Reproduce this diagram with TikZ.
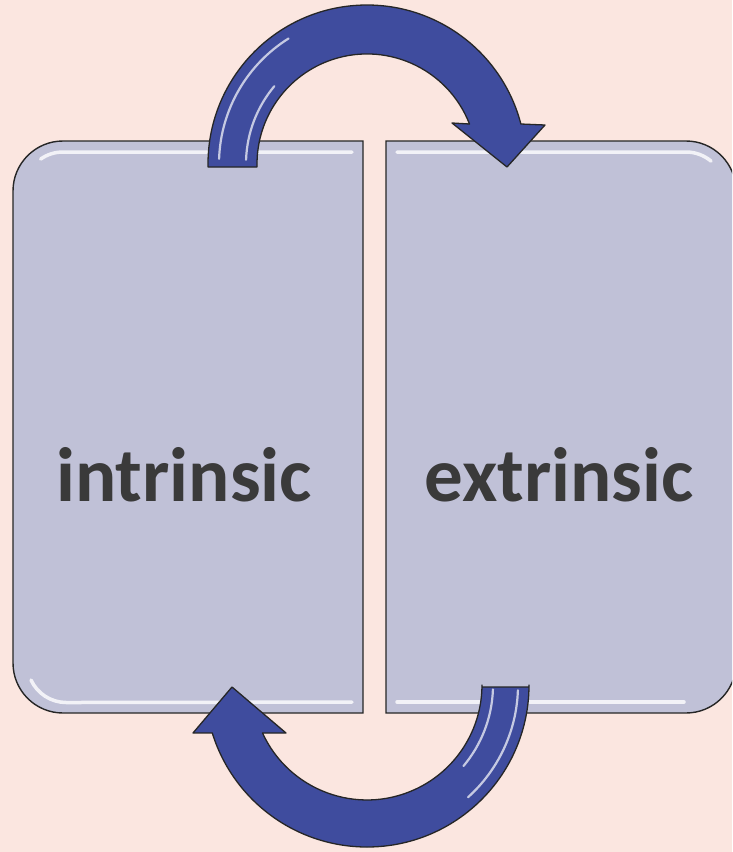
\documentclass[tikz,border=0pt]{standalone}
\usepackage{fontspec}
\setmainfont{Carlito}
\definecolor{bg}{RGB}{251,230,224}
\definecolor{panelfill}{RGB}{192,193,215}
\definecolor{arrowfill}{RGB}{63,76,158}
\definecolor{txt}{RGB}{58,58,58}
\tikzset{
  panel/.style={fill=panelfill, draw=black!85, line width=1.4pt},
  phl/.style={draw=white, line width=3.5pt, opacity=0.8, line cap=round},
  arrowshape/.style={fill=arrowfill, draw=black!85, line width=1.3pt, line join=round},
  ahl/.style={draw=white, line width=2.2pt, opacity=0.7, line cap=round},
  label/.style={font=\fontsize{77}{92}\selectfont\bfseries, text=txt, anchor=base, inner sep=0pt}
}
\begin{document}
\begin{tikzpicture}[x=1pt,y=1pt]
\useasboundingbox (0,0) rectangle (732,-852);
\fill[bg] (0,0) rectangle (732,-852);
\begin{scope}
\clip (0,0) rectangle (732,-852);
% panels
\draw[panel] (363,-141) -- (63,-141) arc[start angle=90, end angle=180, radius=50]
  -- (13,-663) arc[start angle=180, end angle=270, radius=50] -- (363,-713) -- cycle;
\draw[panel] (386,-141) -- (686,-141) arc[start angle=90, end angle=0, radius=50]
  -- (736,-663) arc[start angle=0, end angle=-90, radius=50] -- (386,-713) -- cycle;
% panel highlights
\draw[phl] (352,-152) -- (63,-152) arc[start angle=90, end angle=125, radius=39];
\draw[phl] (31,-680) arc[start angle=205, end angle=270, radius=39] -- (352,-702);
\draw[phl] (397,-152) -- (686,-152) arc[start angle=90, end angle=50, radius=39];
\draw[phl] (397,-702) -- (684,-702);
\end{scope}
% labels
\node[label] (intr) at (184,-501) {intrinsic};
\node[label] (extr) at (559,-501) {extrinsic};
% top arrow
\draw[arrowshape] (208,-167) -- (208,-164) arc[start angle=180, end angle=14.57, radius=159]
  -- (545,-125) -- (507,-167) -- (452,-123) -- (469.5,-124)
  arc[start angle=21.3, end angle=180, radius=110] -- (257,-167) -- cycle;
\draw[ahl] (367,-164) ++(178:148) arc[start angle=178, end angle=122, radius=148];
\draw[ahl] (367,-164) ++(178:121) arc[start angle=178, end angle=140, radius=121];
% bottom arrow
\draw[arrowshape] (529,-687) -- (529,-685) arc[start angle=0, end angle=-162.8, radius=162]
  -- (193,-733) -- (232,-687) -- (286,-733) -- (262.5,-733)
  arc[start angle=-155.3, end angle=0, radius=115] -- (482,-687) -- cycle;
\draw[ahl] (367,-685) ++(-2:151) arc[start angle=-2, end angle=-48, radius=151];
\draw[ahl] (367,-685) ++(-2:126) arc[start angle=-2, end angle=-40, radius=126];
\end{tikzpicture}
\end{document}
